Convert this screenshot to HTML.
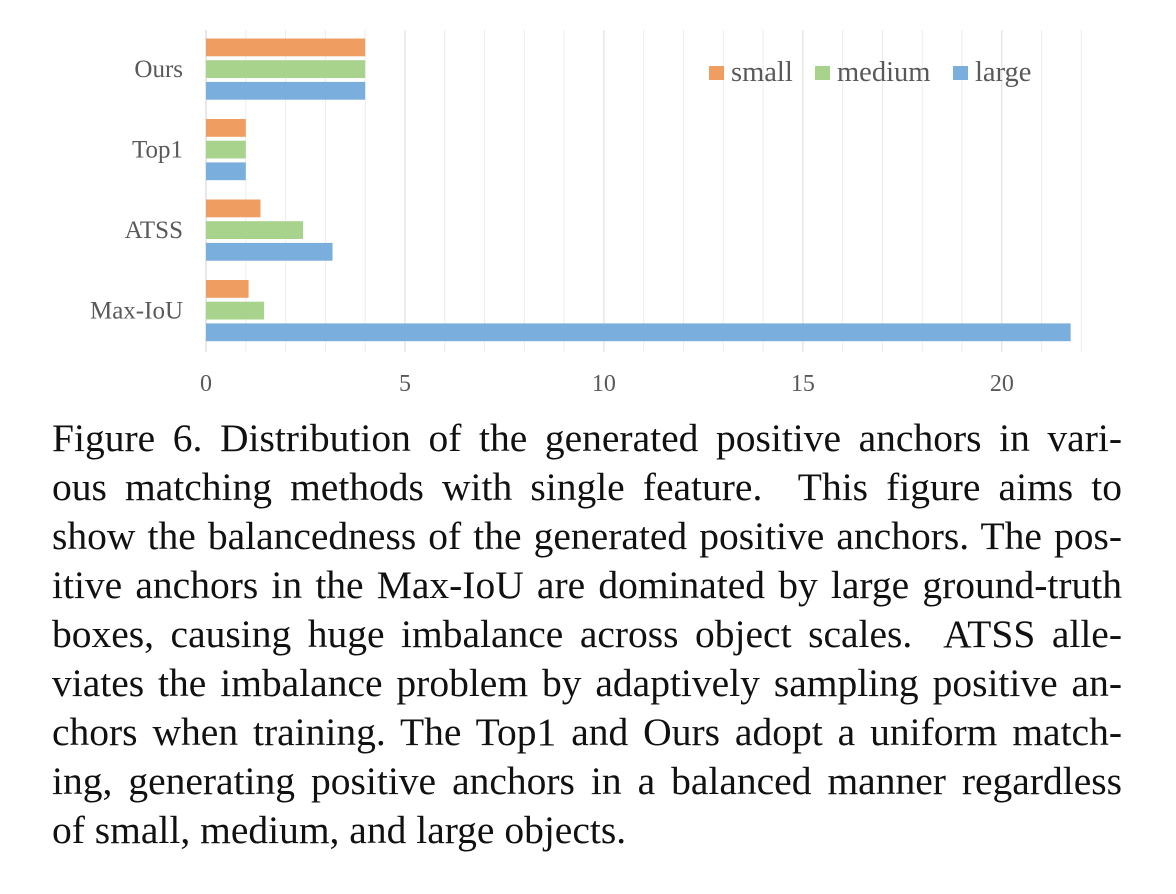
<!DOCTYPE html>
<html><head><meta charset="utf-8">
<style>
body{margin:0;width:1176px;height:894px;background:#fff;overflow:hidden;position:relative}
#cap{position:absolute;left:52px;top:414px;width:1070px;font-family:"Liberation Serif",serif;font-size:39.5px;line-height:49px;color:#111}
#cap div{text-align:justify;text-align-last:justify;white-space:nowrap}
#cap div.last{text-align-last:left}
</style></head><body>
<svg id="chart" width="1176" height="410" style="position:absolute;left:0;top:0" font-family="Liberation Serif, serif"></svg>
<div id="cap">
<div>Figure 6. Distribution of the generated positive anchors in vari-</div>
<div>ous matching methods with single feature.&nbsp; This figure aims to</div>
<div>show the balancedness of the generated positive anchors. The pos-</div>
<div>itive anchors in the Max-IoU are dominated by large ground-truth</div>
<div>boxes, causing huge imbalance across object scales.&nbsp; ATSS alle-</div>
<div>viates the imbalance problem by adaptively sampling positive an-</div>
<div>chors when training. The Top1 and Ours adopt a uniform match-</div>
<div>ing, generating positive anchors in a balanced manner regardless</div>
<div class="last">of small, medium, and large objects.</div>
</div>
<script>
const categories=["Ours","Top1","ATSS","Max-IoU"];
const smallVals=[4,1,1.37,1.07];
const mediumVals=[4,1,2.44,1.46];
const largeVals=[4,1,3.18,21.73];
const seriesNames=["small","medium","large"];
const tickLabels=[0,5,10,15,20];
const xMax=22;
const colors=["#f09d62","#a8d38c","#7aaedc"];
const svg=document.getElementById('chart');
const NS="http://www.w3.org/2000/svg";
const x0=206,x1=1081.4,yTop=30,yBot=352;
const xs=v=>x0+(x1-x0)*v/xMax;
const band=(yBot-yTop)/categories.length;
function mk(t,a){const e=document.createElementNS(NS,t);for(const k in a)e.setAttribute(k,a[k]);svg.appendChild(e);return e;}
for(let i=0;i<=xMax;i++){
 const g=mk('line',{x1:xs(i),x2:xs(i),y1:yTop,y2:yBot,stroke:i%5==0?'#d9d9d9':'#ececec','stroke-width':1});
 
 
}
const ax=mk('line',{x1:x0,x2:x0,y1:yTop,y2:yBot,stroke:'#d0d0d0','stroke-width':1});


tickLabels.forEach(t=>{
 const e=mk('text',{x:xs(t),y:391,'text-anchor':'middle','font-size':24,fill:'#595959'});e.textContent=t;
 
 
});
const series=[smallVals,mediumVals,largeVals];
categories.forEach((c,i)=>{
 const gy=yTop+band*i+8.5;
 series.forEach((vals,s)=>{
  const r=mk('rect',{x:x0,y:gy+s*21.7,width:xs(vals[i])-x0,height:17.8,fill:colors[s]});
  
  
 });
 const t=mk('text',{x:183,y:gy+30.5+8,'text-anchor':'end','font-size':25,fill:'#595959'});t.textContent=c;
 
 
});
const lx=[709,815,953];
seriesNames.forEach((n,s)=>{
 const r=mk('rect',{x:lx[s],y:66,width:15,height:14,fill:colors[s]});
 
 
 const t=mk('text',{x:lx[s]+22,y:81,'font-size':28.5,fill:'#595959'});t.textContent=n;
 
 
});
</script>
</body></html>
